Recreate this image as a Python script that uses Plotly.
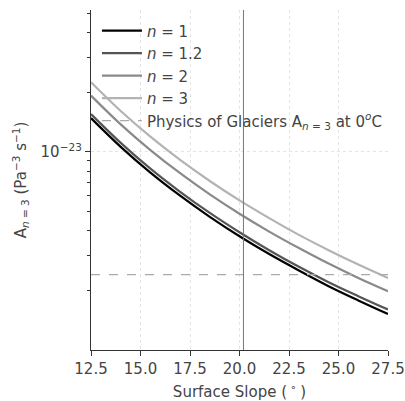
import plotly.graph_objects as go

# Surface slope (degrees)
slope = [12.5, 14.0, 15.5, 17.0, 18.5, 20.0, 21.5, 23.0, 24.5, 26.0, 27.5]

# A_{n=3} values (units of 1e-24 Pa^-3 s^-1)
A_n1 = [14.80, 10.60, 7.86, 6.01, 4.70, 3.75, 3.05, 2.52, 2.10, 1.78, 1.52]
A_n12 = [15.50, 11.10, 8.23, 6.29, 4.92, 3.93, 3.19, 2.63, 2.20, 1.87, 1.60]
A_n2 = [19.22, 13.76, 10.21, 7.80, 6.10, 4.87, 3.96, 3.27, 2.73, 2.31, 1.98]
A_n3 = [22.45, 16.08, 11.93, 9.11, 7.13, 5.69, 4.63, 3.81, 3.19, 2.70, 2.31]

series_names = ["<i>n</i> = 1", "<i>n</i> = 1.2", "<i>n</i> = 2", "<i>n</i> = 3"]
series_vals = [A_n1, A_n12, A_n2, A_n3]
series_colors = ["#000000", "#555555", "#8a8a8a", "#b3b3b3"]

pog_A = 2.4  # Physics of Glaciers A(n=3) at 0 C, 1e-24
observed_slope = 20.2

x_ticks = [12.5, 15.0, 17.5, 20.0, 22.5, 25.0, 27.5]
y_major = [1e-23]
y_major_text = ["10<sup>−23</sup>"]
y_minor = [2e-24, 3e-24, 4e-24, 5e-24, 6e-24, 7e-24, 8e-24, 9e-24,
           2e-23, 3e-23, 4e-23, 5e-23]

fig = go.Figure()
for i, (name, vals, col) in enumerate(zip(series_names, series_vals, series_colors)):
    fig.add_trace(go.Scatter(
        x=slope, y=[v * 1e-24 for v in vals], mode="lines", name=name,
        line=dict(color=col, width=2.2, shape="spline"),
        legendgroup=f"g{i}",
    ))
fig.add_trace(go.Scatter(
    x=[slope[0], slope[-1]], y=[pog_A * 1e-24] * 2, mode="lines",
    name="Physics of Glaciers A<sub><i>n</i> = 3</sub> at 0<sup><i>o</i></sup>C",
    line=dict(color="#aaaaaa", width=1.3, dash="dash"),
    legendgroup="g5",
))
fig.add_vline(x=observed_slope, line=dict(color="#777777", width=1))

axis_font = dict(family="DejaVu Sans", size=15, color="#444444")
fig.update_layout(
    width=405, height=401,
    margin=dict(l=91, r=17, t=10, b=51, autoexpand=False),
    paper_bgcolor="white", plot_bgcolor="white",
    font=dict(family="DejaVu Sans", size=15, color="#444444"),
    showlegend=True,
    legend=dict(x=0.02, y=0.987, xanchor="left", yanchor="top",
                bgcolor="rgba(0,0,0,0)", font=dict(size=15, color="#444444"),
                tracegroupgap=0, itemwidth=40),
    xaxis=dict(
        range=[12.5, 27.5], tickvals=x_ticks,
        ticktext=[f"{v:.1f}" for v in x_ticks],
        showline=True, linecolor="#333333", linewidth=1.3,
        ticks="outside", ticklen=5, tickcolor="#333333",
        showgrid=True, gridcolor="#e4e4e4", griddash="dot", gridwidth=1,
        zeroline=False, tickfont=axis_font, automargin=False,
        title=dict(text="Surface Slope (<sup> ∘ </sup>)", font=axis_font, standoff=11),
    ),
    yaxis=dict(
        type="log", range=[-24.0, -22.284],
        tickvals=y_major, ticktext=y_major_text,
        showline=True, linecolor="#333333", linewidth=1.3,
        ticks="outside", ticklen=5, tickcolor="#333333",
        showgrid=True, gridcolor="#e4e4e4", griddash="dot", gridwidth=1,
        minor=dict(tickvals=y_minor, ticks="outside", ticklen=3,
                   tickcolor="#333333", showgrid=False),
        zeroline=False, tickfont=axis_font, automargin=False,
        title=dict(text="A<sub><i>n</i> = 3</sub> (Pa<sup>−3</sup> s<sup>−1</sup>)",
                   font=axis_font, standoff=10),
    ),
)
fig.write_html(
    "out.html",
    config={"displayModeBar": False},
    post_script="document.body.style.margin='0';document.body.style.overflow='hidden';",
)
